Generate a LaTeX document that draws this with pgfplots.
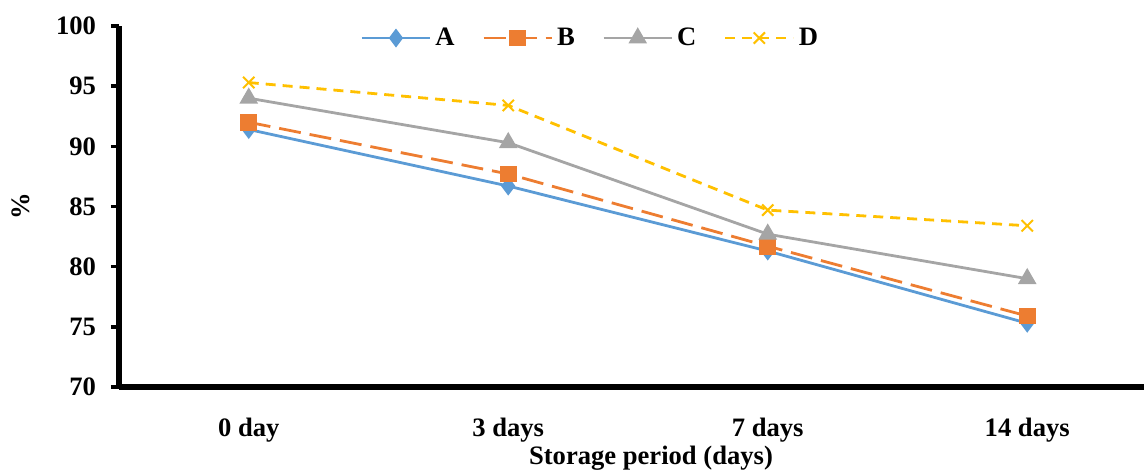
\documentclass[border=0pt]{standalone}
\usepackage{pgfplots}
\pgfplotsset{compat=1.18}
\usepackage{fontspec}
\setmainfont{Liberation Serif}

\definecolor{serA}{HTML}{5B9BD5}
\definecolor{serB}{HTML}{ED7D31}
\definecolor{serC}{HTML}{A5A5A5}
\definecolor{serD}{HTML}{FFC000}

\begin{document}
\begin{tikzpicture}
\begin{axis}[
  name=ax,
  scale only axis,
  width=512.5pt, height=180.5pt,
  xmin=-0.5, xmax=3.45,
  ymin=70, ymax=100,
  ytick={70,75,...,100},
  xtick={0,1,2,3},
  xticklabels={0 day,3 days,7 days,14 days},
  axis lines*=left,
  axis line style={line width=2.8pt},
  x tick style={draw=none},
  y tick style={line width=1.8pt, black},
  tick align=outside,
  major tick length=4pt,
  /pgf/number format/assume math mode=true,
  tick label style={font=\fontsize{13.3}{15}\selectfont\bfseries},
  yticklabel style={xshift=-4pt},
  xticklabel style={yshift=-8pt},
  ylabel={\%},
  ylabel style={font=\fontsize{13.3}{15}\selectfont\bfseries, at={(axis description cs:0,0.5)}, anchor=center, yshift=49pt},
  xlabel={Storage period (days)},
  xlabel style={font=\fontsize{13.3}{15}\selectfont\bfseries, at={(axis cs:1.55,70)}, anchor=center, yshift=-35.5pt},
  clip=false,
  legend columns=4,
  legend style={draw=none, fill=none, at={(axis cs:1.32,99)}, anchor=center,
    font=\fontsize{13.3}{15}\selectfont\bfseries,
    /tikz/every even column/.append style={column sep=11.8pt}},
  legend image code/.code={
    \draw[mark repeat=2,mark phase=2] plot coordinates {(0pt,0pt) (17pt,0pt) (34pt,0pt)};},
]
\addplot[serA, line width=1.4pt, mark=diamond*, mark size=3.6pt, mark options={solid, fill=serA}]
  coordinates {(0,91.4) (1,86.7) (2,81.3) (3,75.3)};
\addlegendentry{A}
\addplot[serB, line width=1.4pt, dash pattern=on 11pt off 4.5pt, mark=square*, mark size=3.5pt, mark options={solid, fill=serB}]
  coordinates {(0,92.0) (1,87.7) (2,81.7) (3,75.9)};
\addlegendentry{B}
\addplot[serC, line width=1.4pt, mark=triangle*, mark size=4pt, mark options={solid, fill=serC}]
  coordinates {(0,94.0) (1,90.3) (2,82.7) (3,79.0)};
\addlegendentry{C}
\addplot[serD, line width=1.4pt, dash pattern=on 5pt off 3.5pt, mark=x, mark size=4pt, mark options={solid, line width=1pt}]
  coordinates {(0,95.3) (1,93.4) (2,84.7) (3,83.4)};
\addlegendentry{D}
\end{axis}
\pgfresetboundingbox
\path[use as bounding box] ([shift={(-59.5pt,-41.5pt)}]ax.south west) rectangle ([shift={(0pt,13pt)}]ax.north east);
\end{tikzpicture}
\end{document}
